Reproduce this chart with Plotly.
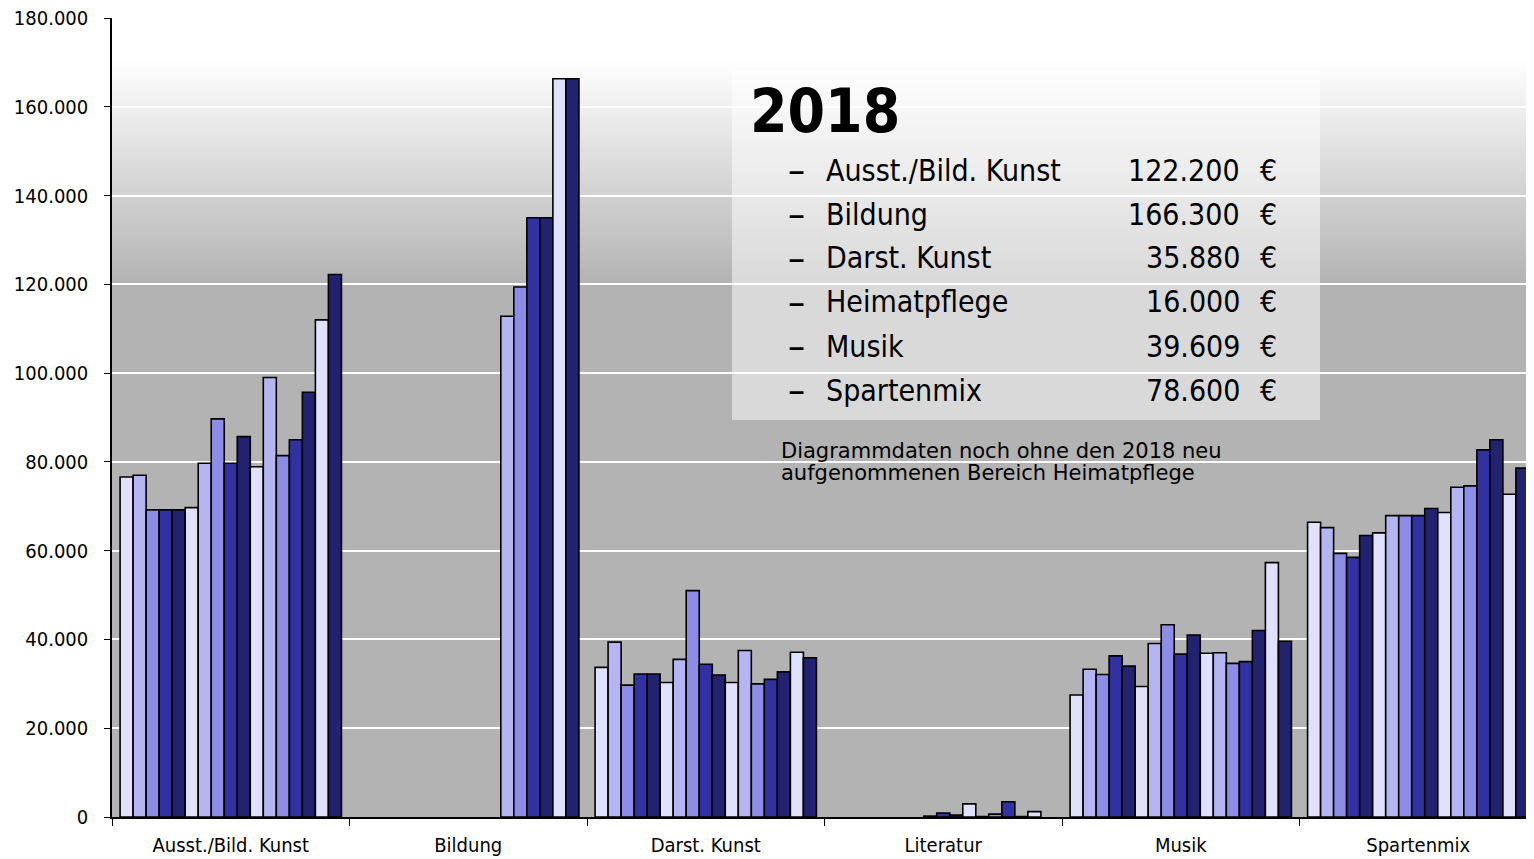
import plotly.graph_objects as go

categories = ["Ausst./Bild. Kunst", "Bildung", "Darst. Kunst", "Literatur", "Musik", "Spartenmix"]
years = [str(y) for y in range(2002, 2019)]

ausst = [76600, 77000, 69200, 69200, 69200, 69700, 79700, 89700, 79700, 85700,
         78900, 99000, 81400, 85000, 95700, 112000, 122200]
bildung = [None] * 11 + [112800, 119400, 135000, 135000, 166300, 166300]
darst = [33700, 39400, 29700, 32200, 32200, 30300, 35500, 51000, 34400, 32000,
         30300, 37500, 30000, 31000, 32700, 37100, 35880]
literatur = [None] * 7 + [200, 900, 450, 2950, 100, 650, 3450, 100, 1200, None]
musik = [27500, 33300, 32100, 36300, 34000, 29400, 39100, 43300, 36700, 41000,
         36900, 37000, 34600, 35000, 42000, 57300, 39609]
sparten = [66400, 65200, 59400, 58500, 63400, 64000, 67900, 67900, 67900, 69500,
           68600, 74300, 74600, 82700, 85000, 72700, 78600]

series = [ausst, bildung, darst, literatur, musik, sparten]

box_title = "2018"
box_labels = ["Ausst./Bild. Kunst", "Bildung", "Darst. Kunst", "Heimatpflege", "Musik", "Spartenmix"]
box_values = ["122.200", "166.300", "35.880", "16.000", "39.609", "78.600"]
note_lines = ["Diagrammdaten noch ohne den 2018 neu", "aufgenommenen Bereich Heimatpflege"]

palette = ["#E0E0FF", "#B5B5F3", "#8D8DE8", "#3131A2", "#222270"]
colors = [palette[i % 5] for i in range(15)] + ["#E0E0FF", "#222270"]

fig = go.Figure()
for i, yr in enumerate(years):
    fig.add_trace(go.Bar(
        name=yr, x=categories, y=[s[i] for s in series],
        marker=dict(color=colors[i], line=dict(color="black", width=1.6)),
    ))

W, H = 1534, 859
OFF = 8  # page body margin
L, R, T, B = 104, 5, 10, 50
pw, ph = W - L - R, H - T - B

def px(x):  # screen x -> paper
    return (x - OFF - L) / pw

def py(y):  # screen y -> paper
    return (H - B - (y - OFF)) / ph

shapes = []
# background gradient (white at top to grey)
g_top, g_bot = 60, 283
n = 56
edges = [g_bot - (g_bot - g_top) * k / n for k in range(n + 1)]
for k in range(n):
    y0, y1 = edges[k], edges[k + 1]
    t = (k + 0.5) / n
    g = int(round(179 + (255 - 179) * t))
    shapes.append(dict(type="rect", xref="paper", yref="paper", x0=0, x1=1,
                       y0=py(y0), y1=py(y1) + 0.001, fillcolor=f"rgb({g},{g},{g})",
                       line=dict(width=0), layer="below"))
shapes.append(dict(type="rect", xref="paper", yref="paper", x0=0, x1=1,
                   y0=py(g_top), y1=1, fillcolor="white", line=dict(width=0), layer="below"))
# info box
shapes.append(dict(type="rect", xref="paper", yref="paper", x0=px(732), x1=px(1320),
                   y0=py(420), y1=py(70), fillcolor="rgba(255,255,255,0.5)",
                   line=dict(width=0), layer="above"))

FONT = "DejaVu Sans Condensed, DejaVu Sans, sans-serif"
ann = []
ann.append(dict(text=f"<b>{box_title}</b>", xref="paper", yref="paper", x=px(748), y=py(111),
                xanchor="left", yanchor="middle", showarrow=False,
                font=dict(family=FONT, size=60, color="black")))
for j, (lab, val) in enumerate(zip(box_labels, box_values)):
    yy = py(170 + 44 * j)
    ann.append(dict(text="–", xref="paper", yref="paper", x=px(786), y=yy, xanchor="left",
                    yanchor="middle", showarrow=False, font=dict(family=FONT, size=38, color="black")))
    ann.append(dict(text=lab, xref="paper", yref="paper", x=px(824), y=yy, xanchor="left",
                    yanchor="middle", showarrow=False, font=dict(family=FONT, size=30, color="black")))
    ann.append(dict(text=val, xref="paper", yref="paper", x=px(1242), y=yy, xanchor="right",
                    yanchor="middle", showarrow=False, font=dict(family=FONT, size=30, color="black")))
    ann.append(dict(text="€", xref="paper", yref="paper", x=px(1258), y=yy, xanchor="left",
                    yanchor="middle", showarrow=False, font=dict(family=FONT, size=30, color="black")))
for j, line in enumerate(note_lines):
    ann.append(dict(text=line, xref="paper", yref="paper", x=px(779), y=py(451 + 22 * j),
                    xanchor="left", yanchor="middle", showarrow=False,
                    font=dict(family="DejaVu Sans, sans-serif", size=21, color="black")))

fig.update_layout(
    width=W, height=H,
    margin=dict(l=L, r=R, t=T, b=B, pad=0, autoexpand=False),
    paper_bgcolor="white", plot_bgcolor="#B3B3B3",
    barmode="group", bargap=0.068, bargroupgap=0,
    showlegend=False, separators=",.",
    shapes=shapes, annotations=ann,
    font=dict(family=FONT, size=20, color="black"),
)
fig.update_xaxes(
    automargin=False,
    showline=True, linecolor="black", linewidth=1.5,
    ticks="outside", tickson="boundaries", ticklen=7, tickcolor="black", tickwidth=1,
    showgrid=False, ticklabelstandoff=9,
    tickfont=dict(family=FONT, size=20, color="black"),
)
fig.update_yaxes(
    automargin=False, ticklabeloverflow="allow",
    range=[0, 180000], dtick=20000, tickformat=",d",
    showline=True, linecolor="black", linewidth=1.5,
    ticks="outside", ticklen=6, tickcolor="black", tickwidth=1,
    showgrid=True, gridcolor="white", gridwidth=2, zeroline=False,
    ticklabelstandoff=12,
    tickfont=dict(family=FONT, size=20, color="black"),
)

fig.write_html("out.html")
